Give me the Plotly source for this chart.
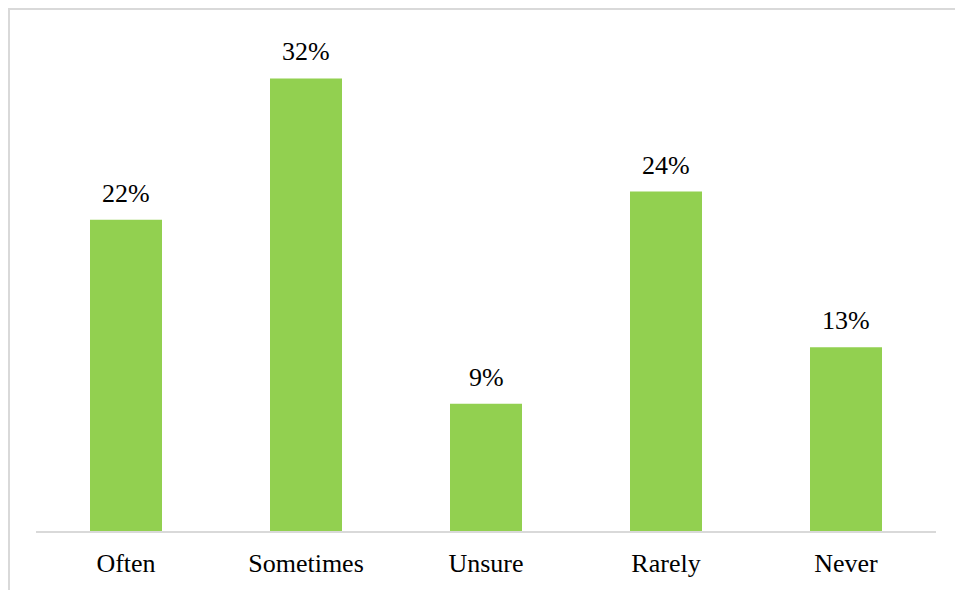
import plotly.graph_objects as go

categories = ["Often", "Sometimes", "Unsure", "Rarely", "Never"]
shares = [0.22, 0.32, 0.09, 0.24, 0.13]

BAR_COLOR = "#92d050"
LINE_COLOR = "#d9d9d9"
FONT = "Liberation Serif"

fig = go.Figure(
    go.Bar(
        x=categories,
        y=shares,
        marker=dict(color=BAR_COLOR, line=dict(width=0)),
        width=0.4,
        hoverinfo="skip",
    )
)

# value labels above each bar
for cat, val in zip(categories, shares):
    fig.add_annotation(
        x=cat, y=val, text=f"{val:.0%}", showarrow=False,
        yanchor="bottom", yshift=10,
        font=dict(family=FONT, size=26, color="#000000"),
    )

# light frame around the chart area
fig.add_shape(
    type="rect", xref="paper", yref="paper",
    x0=-0.03, x1=1.2, y0=-0.3, y1=1.0545,
    line=dict(color=LINE_COLOR, width=2), fillcolor="rgba(0,0,0,0)",
    layer="below",
)

fig.update_layout(
    width=955, height=590,
    margin=dict(l=36, r=19, t=36, b=59, autoexpand=False),
    paper_bgcolor="white", plot_bgcolor="white",
    showlegend=False,
    font=dict(family=FONT, size=26, color="#000000"),
    xaxis=dict(
        showline=True, linecolor=LINE_COLOR, linewidth=2,
        ticks="", ticklabelstandoff=8, showgrid=False, automargin=False,
        tickfont=dict(family=FONT, size=26, color="#000000"),
    ),
    yaxis=dict(range=[0, 0.35], visible=False, showgrid=False, zeroline=False,
               automargin=False),
)

fig.write_html("out.html")
